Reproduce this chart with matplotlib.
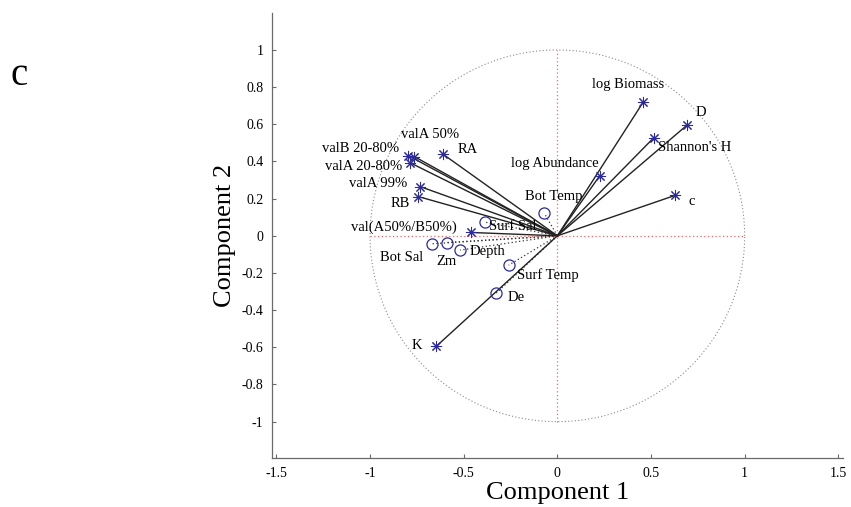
import matplotlib
matplotlib.use('Agg')
import matplotlib.pyplot as plt
import matplotlib.ticker as ticker
import numpy as np

plt.rcParams['font.family'] = ['Liberation Serif', 'DejaVu Serif']
plt.rcParams['axes.unicode_minus'] = False

# loadings of the biological variables (stars)
bio_names = ['log Biomass', 'D', "Shannon's H", 'log Abundance', 'c', 'RA',
             'valA 50%', 'valB 20-80%', 'valA 20-80%', 'valA 99%', 'RB',
             'val(A50%/B50%)', 'K']
bio_pc1 = [0.458, 0.694, 0.515, 0.226, 0.627, -0.613,
           -0.763, -0.795, -0.786, -0.733, -0.742, -0.462, -0.647]
bio_pc2 = [0.719, 0.597, 0.528, 0.323, 0.217, 0.441,
           0.426, 0.431, 0.393, 0.265, 0.211, 0.018, -0.595]

# loadings of the environmental variables (circles)
env_names = ['Bot Temp', 'Surf Sal', 'Bot Sal', 'Zm', 'Depth', 'Surf Temp', 'De']
env_pc1 = [-0.070, -0.389, -0.670, -0.590, -0.519, -0.260, -0.326]
env_pc2 = [0.122, 0.074, -0.043, -0.036, -0.077, -0.158, -0.308]

# label placement: offset in points and horizontal alignment
bio_offsets = [(-11, 13, 'center'), (10, 9, 'center'), (3, -7, 'left'),
               (-1, 9, 'right'), (12, -4.5, 'center'), (11, 3, 'left'),
               (11, 16, 'center'), (-7, 5, 'right'), (-6, -3, 'right'),
               (-9, 2.5, 'right'), (-6, -5, 'right'), (-10, 3.5, 'right'),
               (-10, 0.5, 'right')]
env_offsets = [(-14, 12, 'left'), (3, -3.5, 'left'), (-6, -10, 'right'),
               (0, -14, 'center'), (7, -1, 'left'), (6, -7, 'left'),
               (8.5, -3.5, 'left')]

star_col = '#2a2a9c'
fig = plt.figure(figsize=(8.51, 5.07), dpi=100)
ax = fig.add_axes([0.3193, 0.0961, 0.6713, 0.8783])

# unit circle and the zero lines
t = np.linspace(0, 2 * np.pi, 400)
ax.plot(np.cos(t), np.sin(t), color='#8a8a8a', lw=0.8, ls=(0, (1, 2)))
ax.plot([-1, 1], [0, 0], color='#e86a6a', lw=0.9, ls=(0, (1, 2)))
ax.plot([0, 0], [-1, 1], color='#e86a6a', lw=0.9, ls=(0, (1, 2)))

for x, y in zip(env_pc1, env_pc2):
    ax.plot([0, x], [0, y], color='#333333', lw=0.9, ls=(0, (1, 2)))
for x, y in zip(bio_pc1, bio_pc2):
    ax.plot([0, x], [0, y], color='#222222', lw=1.0)

ax.plot(env_pc1, env_pc2, ls='none', marker='o', ms=8, mfc='none',
        mec=star_col, mew=0.9)
ax.plot(bio_pc1, bio_pc2, ls='none', marker=(8, 2, 0), ms=8, mec=star_col,
        mew=0.75)

for name, x, y, (dx, dy, ha) in zip(bio_names, bio_pc1, bio_pc2, bio_offsets):
    ax.annotate(name, (x, y), xytext=(dx, dy), textcoords='offset points',
                ha=ha, va='center', fontsize=10.5)
for name, x, y, (dx, dy, ha) in zip(env_names, env_pc1, env_pc2, env_offsets):
    ax.annotate(name, (x, y), xytext=(dx, dy), textcoords='offset points',
                ha=ha, va='center', fontsize=10.5)


def tick_fmt(v, pos=None):
    return '%g' % (round(v, 1) + 0.0)


ax.set_xlim(-1.525, 1.525)
ax.set_ylim(-1.197, 1.199)
ax.set_xticks(np.arange(-1.5, 1.51, 0.5))
ax.set_yticks(np.round(np.arange(-1, 1.01, 0.2), 1))
ax.xaxis.set_major_formatter(ticker.FuncFormatter(tick_fmt))
ax.yaxis.set_major_formatter(ticker.FuncFormatter(tick_fmt))
for s in ['top', 'right']:
    ax.spines[s].set_visible(False)
for s in ['left', 'bottom']:
    ax.spines[s].set_color('#6a6a6a')
    ax.spines[s].set_linewidth(0.9)
ax.tick_params(direction='in', length=3, width=0.8, color='#6a6a6a',
               labelsize=10, pad=6)

ax.set_xlabel('Component 1', fontsize=19, labelpad=2)
ax.set_ylabel('Component 2', fontsize=19, labelpad=4)

fig.text(10 / 851, 1 - 85 / 507, 'c', fontsize=28, ha='left', va='baseline')

fig.savefig('out.png', dpi=100)
